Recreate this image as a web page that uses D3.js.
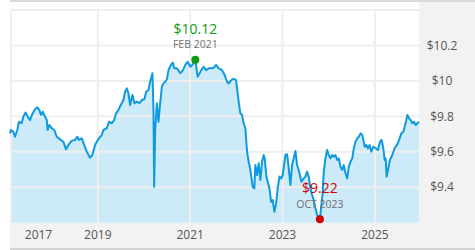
<!DOCTYPE html>
<html>
<head>
<meta charset="utf-8">
<script src="https://cdn.jsdelivr.net/npm/d3@7"></script>
<style>
  html, body { margin: 0; padding: 0; background: #fff; }
  svg { display: block; font-family: 'Open Sans', sans-serif; }
</style>
</head>
<body>
<div id="chart"></div>
<script>
// NAV history, decimal year -> price
const years = [
  2017.098, 2017.119, 2017.169, 2017.206, 2017.256, 2017.293, 2017.351, 2017.386, 2017.438, 2017.482,
  2017.531, 2017.581, 2017.640, 2017.690, 2017.733, 2017.770, 2017.807, 2017.857, 2017.894, 2017.915,
  2017.950, 2018.002, 2018.059, 2018.111, 2018.182, 2018.254, 2018.312, 2018.362, 2018.436, 2018.508,
  2018.557, 2018.594, 2018.653, 2018.709, 2018.761, 2018.833, 2018.883, 2018.941, 2019.000, 2019.087,
  2019.121, 2019.195, 2019.245, 2019.304, 2019.354, 2019.397, 2019.447, 2019.499, 2019.555, 2019.592,
  2019.629, 2019.664, 2019.701, 2019.751, 2019.794, 2019.846, 2019.902, 2019.954, 2020.011, 2020.048,
  2020.098, 2020.134, 2020.184, 2020.206, 2020.221, 2020.243, 2020.280, 2020.315, 2020.351, 2020.388,
  2020.423, 2020.460, 2020.497, 2020.531, 2020.584, 2020.627, 2020.655, 2020.714, 2020.785, 2020.844,
  2020.894, 2020.944, 2021.002, 2021.061, 2021.111, 2021.161, 2021.204, 2021.241, 2021.291, 2021.343,
  2021.399, 2021.458, 2021.508, 2021.560, 2021.616, 2021.690, 2021.746, 2021.798, 2021.833, 2021.892,
  2021.941, 2021.993, 2022.015, 2022.050, 2022.087, 2022.124, 2022.158, 2022.195, 2022.232, 2022.267,
  2022.304, 2022.354, 2022.390, 2022.412, 2022.449, 2022.484, 2022.521, 2022.557, 2022.592, 2022.614,
  2022.651, 2022.688, 2022.716, 2022.753, 2022.787, 2022.824, 2022.861, 2022.896, 2022.933, 2022.976,
  2023.004, 2023.063, 2023.100, 2023.135, 2023.171, 2023.208, 2023.243, 2023.280, 2023.317, 2023.351,
  2023.410, 2023.460, 2023.497, 2023.534, 2023.568, 2023.605, 2023.642, 2023.677, 2023.714, 2023.751,
  2023.810, 2023.866, 2023.894, 2023.931, 2023.967, 2024.002, 2024.039, 2024.076, 2024.111, 2024.148,
  2024.184, 2024.219, 2024.256, 2024.293, 2024.328, 2024.364, 2024.401, 2024.436, 2024.473, 2024.510,
  2024.544, 2024.581, 2024.618, 2024.653, 2024.690, 2024.727, 2024.748, 2024.777, 2024.813, 2024.848,
  2024.885, 2024.922, 2024.965, 2025.015, 2025.065, 2025.108, 2025.145, 2025.182, 2025.210, 2025.232,
  2025.254, 2025.282, 2025.325, 2025.377, 2025.427, 2025.486, 2025.536, 2025.573, 2025.616, 2025.644,
  2025.673, 2025.703, 2025.738, 2025.774, 2025.811, 2025.846, 2025.883, 2025.920, 2025.955
];
const navs = [
  9.704, 9.723, 9.713, 9.685, 9.723, 9.770, 9.761, 9.798, 9.821, 9.798,
  9.779, 9.813, 9.840, 9.851, 9.836, 9.808, 9.826, 9.798, 9.779, 9.723,
  9.751, 9.733, 9.723, 9.685, 9.670, 9.657, 9.614, 9.638, 9.663, 9.667,
  9.685, 9.667, 9.676, 9.638, 9.601, 9.567, 9.582, 9.638, 9.667, 9.695,
  9.723, 9.733, 9.770, 9.761, 9.779, 9.817, 9.836, 9.864, 9.892, 9.939,
  9.958, 9.930, 9.864, 9.920, 9.874, 9.883, 9.874, 9.892, 9.896, 9.939,
  9.949, 9.995, 10.043, 9.836, 9.403, 9.723, 9.874, 9.770, 9.874, 9.967,
  9.986, 9.995, 10.009, 10.061, 10.090, 10.103, 10.071, 10.071, 10.043, 10.061,
  10.090, 10.108, 10.080, 10.095, 10.120, 10.024, 10.043, 10.061, 10.080, 10.061,
  10.071, 10.071, 10.074, 10.090, 10.071, 10.061, 10.033, 9.995, 9.986, 10.005,
  10.011, 10.005, 9.958, 9.883, 9.817, 9.808, 9.761, 9.733, 9.601, 9.544,
  9.497, 9.403, 9.394, 9.525, 9.469, 9.535, 9.441, 9.544, 9.582, 9.563,
  9.460, 9.422, 9.394, 9.318, 9.328, 9.262, 9.309, 9.394, 9.460, 9.450,
  9.469, 9.582, 9.586, 9.507, 9.413, 9.525, 9.563, 9.604, 9.525, 9.497,
  9.431, 9.450, 9.460, 9.488, 9.460, 9.394, 9.356, 9.328, 9.281, 9.243,
  9.220, 9.356, 9.488, 9.563, 9.610, 9.582, 9.563, 9.582, 9.572, 9.582,
  9.554, 9.563, 9.516, 9.497, 9.525, 9.479, 9.450, 9.516, 9.544, 9.563,
  9.620, 9.657, 9.676, 9.685, 9.704, 9.695, 9.667, 9.629, 9.638, 9.620,
  9.638, 9.601, 9.629, 9.620, 9.610, 9.657, 9.667, 9.620, 9.554, 9.563,
  9.460, 9.497, 9.554, 9.582, 9.620, 9.642, 9.676, 9.704, 9.713, 9.742,
  9.770, 9.808, 9.789, 9.779, 9.761, 9.770, 9.751, 9.761, 9.770
];
const xTickYears = [2017, 2019, 2021, 2023, 2025];
const yTicks = [9.4, 9.6, 9.8, 10, 10.2, 10.4];
const yLabelTicks = [9.4, 9.6, 9.8, 10, 10.2];

// decimal year -> Date
function toDate(y) {
  const y0 = Math.floor(y);
  const a = new Date(y0, 0, 1), b = new Date(y0 + 1, 0, 1);
  return new Date(+a + (y - y0) * (b - a));
}

const data = years.map((y, i) => ({ date: toDate(y), v: navs[i] }));

const W = 475, H = 250;
const L = 10, R = 419, T = 10, B = 222.7;

const svg = d3.select("#chart").append("svg")
  .attr("width", W).attr("height", H);

// frame: grey panels, top / bottom bars
svg.append("rect").attr("x", L).attr("y", 2).attr("width", W - L).attr("height", 246).attr("fill", "#f2f2f2");
svg.append("rect").attr("x", L).attr("y", 2).attr("width", R - L).attr("height", B - 2).attr("fill", "#fff");
svg.append("rect").attr("x", L).attr("y", 0).attr("width", W - L).attr("height", 2).attr("fill", "#d9d9d9");
svg.append("rect").attr("x", L).attr("y", 248).attr("width", W - L).attr("height", 2).attr("fill", "#d4d4d4");

const x = d3.scaleTime()
  .domain(d3.extent(data, d => d.date))
  .range([L, R]);
const y = d3.scaleLinear().domain([9.2, 10.4]).range([B, T]);

// area under line
const area = d3.area()
  .x(d => x(d.date)).y0(B).y1(d => y(d.v));
svg.append("path").datum(data)
  .attr("fill", "#cdeaf8").attr("d", area);

// gridlines (drawn over the fill, light grey)
const grid = svg.append("g").attr("stroke", "#efefef").attr("stroke-width", 2);
grid.selectAll(".hg").data(yTicks).join("line")
  .attr("x1", L).attr("x2", R)
  .attr("y1", d => y(d)).attr("y2", d => y(d));
grid.selectAll(".vg").data(xTickYears.map(toDate).filter(d => x(d) > L)).join("line")
  .attr("x1", d => x(d)).attr("x2", d => x(d))
  .attr("y1", T).attr("y2", B);
grid.append("line").attr("x1", L + 1).attr("x2", L + 1).attr("y1", T).attr("y2", B);

// price line
const line = d3.line().x(d => x(d.date)).y(d => y(d.v));
svg.append("path").datum(data)
  .attr("fill", "none").attr("stroke", "#0d9ade")
  .attr("stroke-width", 2).attr("stroke-linejoin", "round")
  .attr("d", line);

// y labels (right panel)
svg.append("g").selectAll("text").data(yLabelTicks).join("text")
  .attr("x", 442).attr("y", d => y(d))
  .attr("dy", "0.35em").attr("text-anchor", "middle")
  .attr("font-size", 12).attr("fill", "#555")
  .text(d => "$" + d3.format("~g")(d));

// x labels (bottom strip); first year is clamped inside the frame
svg.append("g").selectAll("text").data(xTickYears).join("text")
  .attr("x", d => Math.max(x(toDate(d)), L + 28.5))
  .attr("y", 234.5).attr("dy", "0.35em").attr("text-anchor", "middle")
  .attr("font-size", 12).attr("fill", "#555")
  .text(d => d);

// high / low markers
const fmtMonth = d => d3.timeFormat("%b %Y")(d).toUpperCase();
const hi = data[d3.maxIndex(data, d => d.v)];
const lo = data[d3.minIndex(data, d => d.v)];

function marker(p, color) {
  const px = x(p.date), py = y(p.v);
  svg.append("circle").attr("cx", px).attr("cy", py).attr("r", 4).attr("fill", color);
  svg.append("text").attr("x", px).attr("y", py - 26)
    .attr("text-anchor", "middle").attr("font-size", 14).attr("fill", color)
    .text("$" + d3.format(".2f")(p.v));
  svg.append("text").attr("x", px).attr("y", py - 11.5)
    .attr("text-anchor", "middle").attr("font-size", 10.5).attr("fill", "#707070")
    .text(fmtMonth(p.date));
}
marker(hi, "#129a12");
marker(lo, "#d00000");
</script>
</body>
</html>
